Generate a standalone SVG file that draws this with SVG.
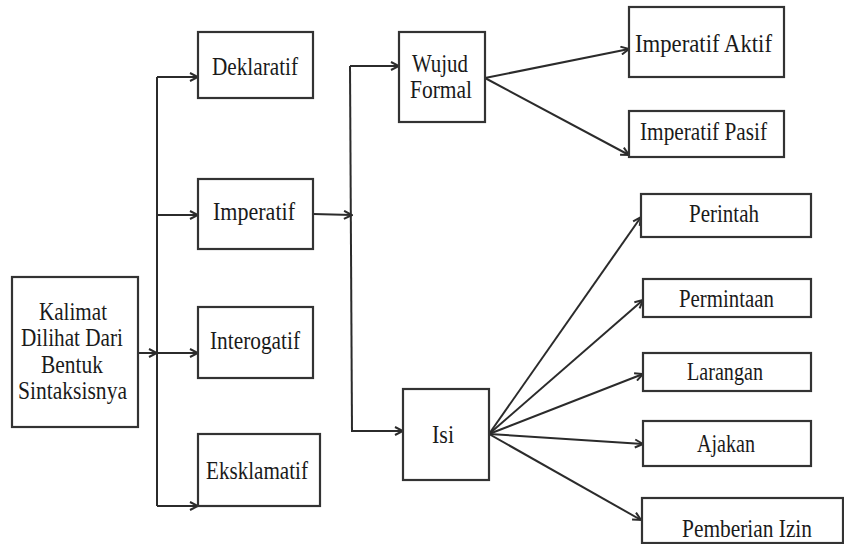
<svg xmlns="http://www.w3.org/2000/svg" width="844" height="544" viewBox="0 0 844 544">
<defs>
<marker id="arr" markerWidth="10" markerHeight="10" refX="9" refY="5" orient="auto" markerUnits="userSpaceOnUse">
<path d="M1,1 L9,5 L1,9" fill="none" stroke="#2b2b2b" stroke-width="2"/>
</marker>
</defs>
<style>
.box{fill:#fff;stroke:#333;stroke-width:2.2}
.t{font-family:"Liberation Serif","Times New Roman",serif;font-size:25px;fill:#1a1a1a}
.c{fill:none;stroke:#2b2b2b;stroke-width:2}
.a{marker-end:url(#arr)}
</style>
<rect width="844" height="544" fill="#fff"/>
<g id="connectors">
<line class="c a" x1="138" y1="353" x2="157" y2="353"/>
<line class="c" x1="157" y1="77" x2="157" y2="506"/>
<line class="c a" x1="157" y1="77" x2="198" y2="77"/>
<line class="c a" x1="157" y1="215" x2="198" y2="215"/>
<line class="c a" x1="157" y1="353" x2="198" y2="353"/>
<line class="c a" x1="157" y1="506" x2="198" y2="506"/>
<line class="c a" x1="313" y1="214" x2="352" y2="215"/>
<line class="c" x1="350" y1="66" x2="352" y2="432"/>
<line class="c a" x1="350" y1="66" x2="399" y2="66"/>
<line class="c a" x1="352" y1="431" x2="403" y2="431"/>
<line class="c a" x1="485" y1="78" x2="629" y2="49"/>
<line class="c a" x1="485" y1="78" x2="629" y2="155"/>
<line class="c a" x1="489" y1="434" x2="641" y2="217"/>
<line class="c a" x1="489" y1="434" x2="643" y2="300"/>
<line class="c a" x1="489" y1="434" x2="643" y2="374"/>
<line class="c a" x1="489" y1="434" x2="643" y2="444"/>
<line class="c a" x1="489" y1="434" x2="641" y2="520"/>
</g>
<g id="kalimat">
<rect class="box" x="12" y="277" width="126" height="150"/>
<text class="t" x="39" y="320" textLength="68" lengthAdjust="spacingAndGlyphs">Kalimat</text>
<text class="t" x="21" y="346" textLength="102" lengthAdjust="spacingAndGlyphs">Dilihat Dari</text>
<text class="t" x="41" y="373" textLength="62" lengthAdjust="spacingAndGlyphs">Bentuk</text>
<text class="t" x="18" y="399" textLength="109" lengthAdjust="spacingAndGlyphs">Sintaksisnya</text>
</g>
<g id="deklaratif">
<rect class="box" x="198" y="32" width="115" height="66"/>
<text class="t" x="212" y="75" textLength="86" lengthAdjust="spacingAndGlyphs">Deklaratif</text>
</g>
<g id="imperatif">
<rect class="box" x="198" y="179" width="115" height="70"/>
<text class="t" x="213" y="220" textLength="82" lengthAdjust="spacingAndGlyphs">Imperatif</text>
</g>
<g id="interogatif">
<rect class="box" x="198" y="307" width="115" height="71"/>
<text class="t" x="210" y="349" textLength="90" lengthAdjust="spacingAndGlyphs">Interogatif</text>
</g>
<g id="eksklamatif">
<rect class="box" x="198" y="434" width="122" height="72"/>
<text class="t" x="206" y="479" textLength="102" lengthAdjust="spacingAndGlyphs">Eksklamatif</text>
</g>
<g id="wujud-formal">
<rect class="box" x="399" y="32" width="86" height="90"/>
<text class="t" x="412" y="72" textLength="56" lengthAdjust="spacingAndGlyphs">Wujud</text>
<text class="t" x="410" y="98" textLength="62" lengthAdjust="spacingAndGlyphs">Formal</text>
</g>
<g id="isi">
<rect class="box" x="403" y="389" width="86" height="91"/>
<text class="t" x="432" y="443" textLength="22" lengthAdjust="spacingAndGlyphs">Isi</text>
</g>
<g id="imperatif-aktif">
<rect class="box" x="629" y="7" width="155" height="70"/>
<text class="t" x="635" y="52" textLength="137" lengthAdjust="spacingAndGlyphs">Imperatif  Aktif</text>
</g>
<g id="imperatif-pasif">
<rect class="box" x="629" y="111" width="155" height="46"/>
<text class="t" x="640" y="140" textLength="127" lengthAdjust="spacingAndGlyphs">Imperatif Pasif</text>
</g>
<g id="perintah">
<rect class="box" x="641" y="194" width="170" height="43"/>
<text class="t" x="689" y="222" textLength="70" lengthAdjust="spacingAndGlyphs">Perintah</text>
</g>
<g id="permintaan">
<rect class="box" x="643" y="279" width="168" height="38"/>
<text class="t" x="679" y="307" textLength="95" lengthAdjust="spacingAndGlyphs">Permintaan</text>
</g>
<g id="larangan">
<rect class="box" x="643" y="353" width="168" height="38"/>
<text class="t" x="687" y="380" textLength="76" lengthAdjust="spacingAndGlyphs">Larangan</text>
</g>
<g id="ajakan">
<rect class="box" x="643" y="421" width="168" height="45"/>
<text class="t" x="697" y="452" textLength="58" lengthAdjust="spacingAndGlyphs">Ajakan</text>
</g>
<g id="pemberian-izin">
<rect class="box" x="642" y="498" width="201" height="45"/>
<text class="t" x="682" y="537" textLength="130" lengthAdjust="spacingAndGlyphs">Pemberian Izin</text>
</g>
</svg>
